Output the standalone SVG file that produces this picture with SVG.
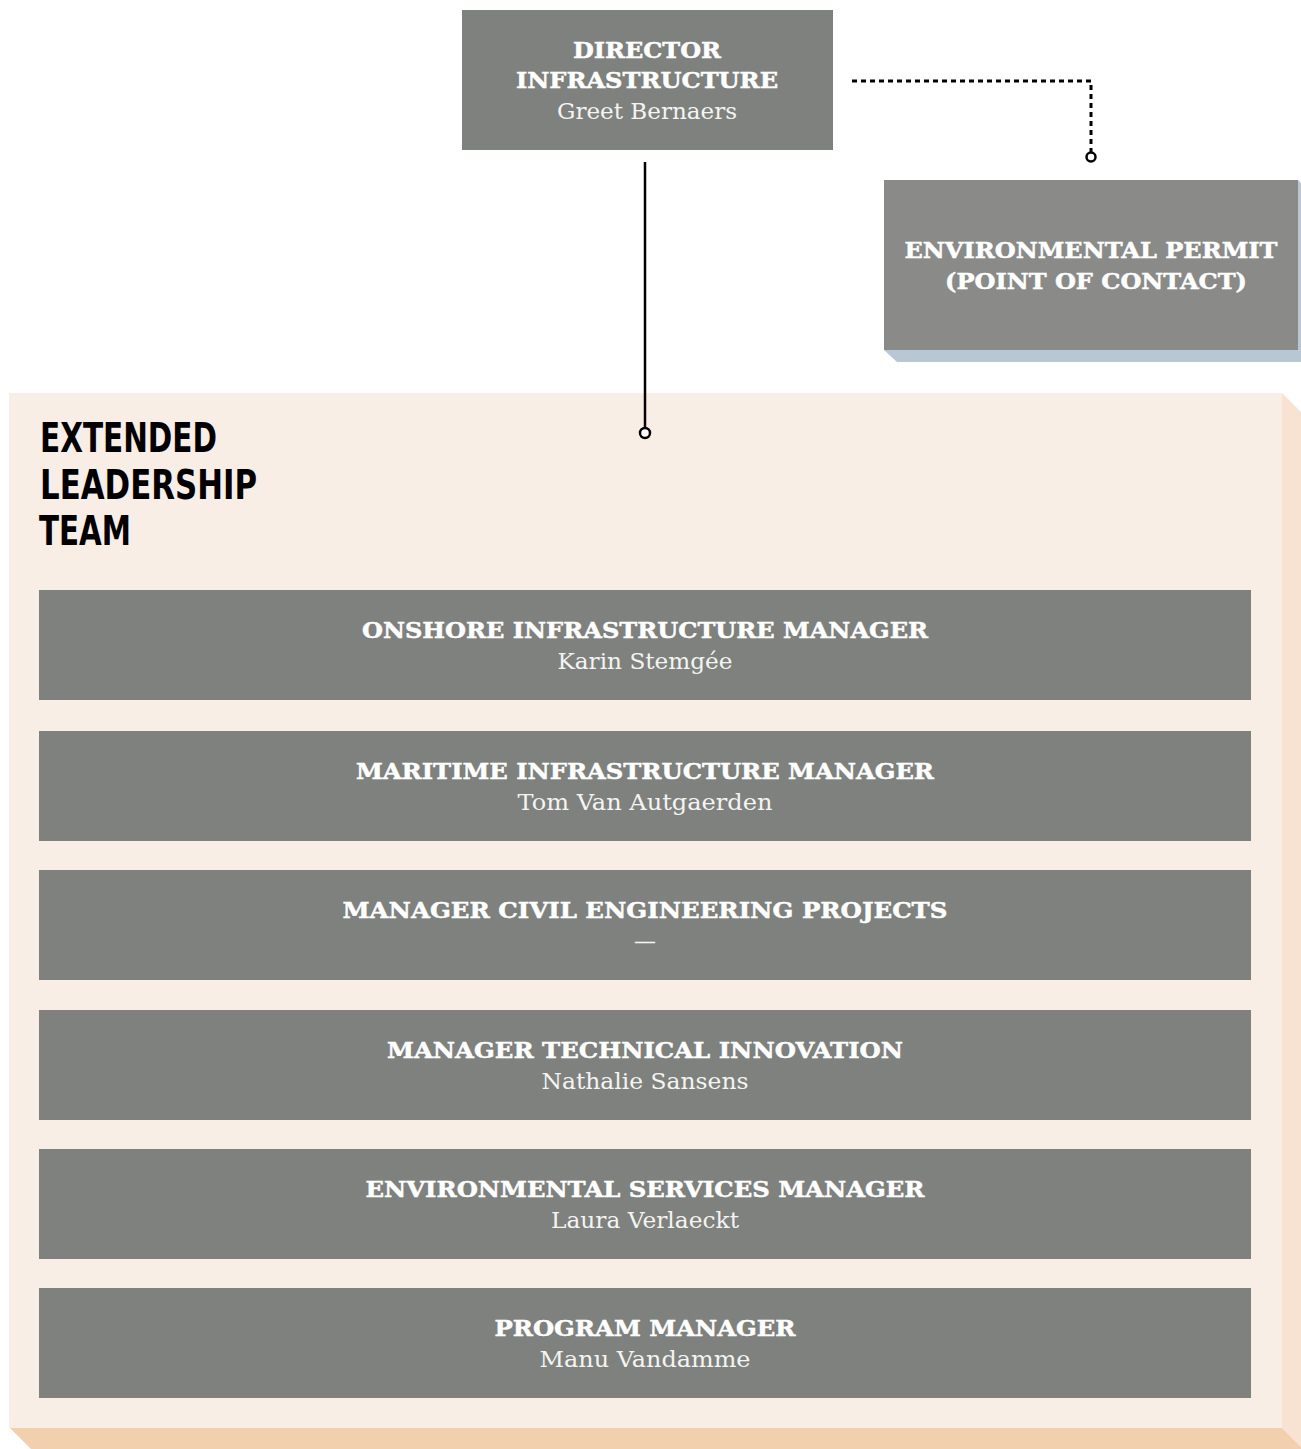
<svg xmlns="http://www.w3.org/2000/svg" width="1301" height="1449" viewBox="0 0 1301 1449">
<style>
.box{fill:#7e817d}
.t{font-family:"DejaVu Serif",serif;font-weight:bold;font-size:23px;fill:#ffffff;stroke:#ffffff;stroke-width:0.5;text-anchor:middle}
.n{font-family:"DejaVu Serif",serif;font-weight:normal;font-size:22px;fill:#f4f4f2;text-anchor:middle}
.h{font-family:"DejaVu Sans Condensed","DejaVu Sans",sans-serif;font-weight:bold;font-size:40px;fill:#000000}
.con{stroke:#000000;stroke-width:2.5;fill:none}
.end{stroke:#000000;stroke-width:2.5;fill:#ffffff}
</style>
<rect width="1301" height="1449" fill="#ffffff"/>
<g id="panel">
<polygon points="1282,393 1301,412 1301,1447 1282,1428" fill="#f8e3d3"/>
<polygon points="10,1428 1282,1428 1301,1447 1301,1449 31,1449" fill="#f2d0ae"/>
<rect x="9" y="393" width="1273" height="1035" fill="#f9eee5"/>
<text class="h" x="40" y="452" textLength="177" lengthAdjust="spacingAndGlyphs">EXTENDED</text>
<text class="h" x="40" y="499" textLength="217" lengthAdjust="spacingAndGlyphs">LEADERSHIP</text>
<text class="h" x="39" y="545" textLength="92" lengthAdjust="spacingAndGlyphs">TEAM</text>
</g>
<g id="director">
<rect class="box" x="462" y="10" width="371" height="140"/>
<text class="t" x="647" y="58" textLength="148" lengthAdjust="spacingAndGlyphs">DIRECTOR</text>
<text class="t" x="647" y="88" textLength="262" lengthAdjust="spacingAndGlyphs">INFRASTRUCTURE</text>
<text class="n" x="647" y="119" textLength="180" lengthAdjust="spacingAndGlyphs">Greet Bernaers</text>
</g>
<g id="envpermit">
<polygon points="884,350 1298,350 1298,362 897,362" fill="#b9c6d3"/>
<polygon points="1298,180 1301,183 1301,362 1298,362" fill="#b9c6d3"/>
<rect x="884" y="180" width="414" height="170" fill="#8a8b89"/>
<text class="t" x="1091" y="258" textLength="373" lengthAdjust="spacingAndGlyphs">ENVIRONMENTAL PERMIT</text>
<text class="t" x="1096" y="289" textLength="302" lengthAdjust="spacingAndGlyphs">(POINT OF CONTACT)</text>
</g>
<g id="connectors">
<line class="con" x1="645" y1="162" x2="645" y2="428"/>
<circle class="end" cx="645" cy="433" r="5"/>
<path d="M852,81 H1091 V152" stroke="#000000" stroke-width="3" fill="none" stroke-dasharray="5,4"/>
<circle class="end" cx="1091" cy="157" r="4.5"/>
</g>
<g id="onshore">
<rect class="box" x="39" y="590" width="1212" height="110"/>
<text class="t" x="645" y="638" textLength="566" lengthAdjust="spacingAndGlyphs">ONSHORE INFRASTRUCTURE MANAGER</text>
<text class="n" x="645" y="669" textLength="175" lengthAdjust="spacingAndGlyphs">Karin Stemgée</text>
</g>
<g id="maritime">
<rect class="box" x="39" y="731" width="1212" height="110"/>
<text class="t" x="645" y="779" textLength="578" lengthAdjust="spacingAndGlyphs">MARITIME INFRASTRUCTURE MANAGER</text>
<text class="n" x="645" y="810" textLength="255" lengthAdjust="spacingAndGlyphs">Tom Van Autgaerden</text>
</g>
<g id="civil">
<rect class="box" x="39" y="870" width="1212" height="110"/>
<text class="t" x="645" y="918" textLength="605" lengthAdjust="spacingAndGlyphs">MANAGER CIVIL ENGINEERING PROJECTS</text>
<text class="n" x="645" y="949">—</text>
</g>
<g id="innovation">
<rect class="box" x="39" y="1010" width="1212" height="110"/>
<text class="t" x="645" y="1058" textLength="516" lengthAdjust="spacingAndGlyphs">MANAGER TECHNICAL INNOVATION</text>
<text class="n" x="645" y="1089" textLength="207" lengthAdjust="spacingAndGlyphs">Nathalie Sansens</text>
</g>
<g id="environmental">
<rect class="box" x="39" y="1149" width="1212" height="110"/>
<text class="t" x="645" y="1197" textLength="559" lengthAdjust="spacingAndGlyphs">ENVIRONMENTAL SERVICES MANAGER</text>
<text class="n" x="645" y="1228" textLength="188" lengthAdjust="spacingAndGlyphs">Laura Verlaeckt</text>
</g>
<g id="program">
<rect class="box" x="39" y="1288" width="1212" height="110"/>
<text class="t" x="645" y="1336" textLength="301" lengthAdjust="spacingAndGlyphs">PROGRAM MANAGER</text>
<text class="n" x="645" y="1367" textLength="211" lengthAdjust="spacingAndGlyphs">Manu Vandamme</text>
</g>
</svg>
